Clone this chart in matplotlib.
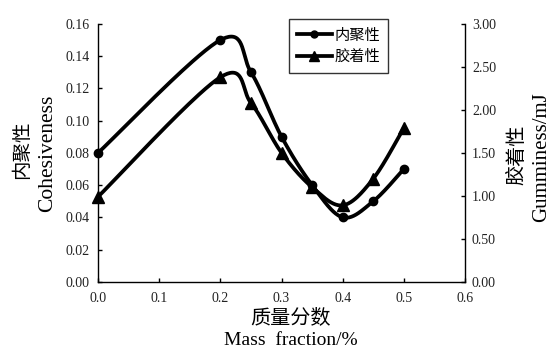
import numpy as np
import matplotlib
matplotlib.use("Agg")
import matplotlib.pyplot as plt
from matplotlib.lines import Line2D

# Data
mass_fraction = [0.0, 0.2, 0.25, 0.3, 0.35, 0.4, 0.45, 0.5]
cohesiveness = [0.08, 0.15, 0.13, 0.09, 0.06, 0.04, 0.05, 0.07]
gumminess = [0.99, 2.38, 2.08, 1.50, 1.10, 0.89, 1.20, 1.79]

x_ticks = [0.0, 0.1, 0.2, 0.3, 0.4, 0.5, 0.6]
left_ticks = [0.00, 0.02, 0.04, 0.06, 0.08, 0.10, 0.12, 0.14, 0.16]
right_ticks = [0.00, 0.50, 1.00, 1.50, 2.00, 2.50, 3.00]

SERIF = ["Liberation Serif", "DejaVu Serif"]
CJK = ["Noto Sans CJK SC", "DejaVu Sans"]


def smooth(x, y, n=40):
    """Cubic Bezier smoothing through every point (Catmull-Rom style)."""
    p = np.column_stack([x, y]).astype(float)
    ext = np.vstack([p[0], p, p[-1]])
    t = np.linspace(0, 1, n)[:, None]
    out = []
    for i in range(len(p) - 1):
        p0, p3 = ext[i + 1], ext[i + 2]
        c1 = p0 + (ext[i + 2] - ext[i]) / 6.0
        c2 = p3 - (ext[i + 3] - ext[i + 1]) / 6.0
        seg = ((1 - t) ** 3) * p0 + 3 * ((1 - t) ** 2) * t * c1 \
            + 3 * (1 - t) * t ** 2 * c2 + t ** 3 * p3
        out.append(seg if i == 0 else seg[1:])
    s = np.vstack(out)
    return s[:, 0], s[:, 1]


fig = plt.figure(figsize=(5.51, 3.51), dpi=100)
ax = fig.add_axes([0.178, 0.197, 0.666, 0.735])
ax2 = ax.twinx()

lw = 2.7
sx, sy = smooth(mass_fraction, cohesiveness)
ax.plot(sx, sy, color="black", lw=lw, solid_capstyle="round", zorder=3)
ax.plot(mass_fraction, cohesiveness, ls="none", marker="o", ms=6,
        color="black", zorder=4, clip_on=False)

gx, gy = smooth(mass_fraction, gumminess)
ax2.plot(gx, gy, color="black", lw=lw, solid_capstyle="round", zorder=3)
ax2.plot(mass_fraction, gumminess, ls="none", marker="^", ms=8,
         color="black", zorder=4, clip_on=False)

ax.set_xlim(0, 0.6)
ax.set_ylim(0, 0.16)
ax2.set_ylim(0, 3.0)
ax.set_xticks(x_ticks)
ax.set_xticklabels([f"{v:.1f}" for v in x_ticks])
ax.set_yticks(left_ticks)
ax.set_yticklabels([f"{v:.2f}" for v in left_ticks])
ax2.set_yticks(right_ticks)
ax2.set_yticklabels([f"{v:.2f}" for v in right_ticks])

for a in (ax, ax2):
    for sp in a.spines.values():
        sp.set_linewidth(1.0)
    a.tick_params(direction="in", length=3, width=1.0, labelsize=10,
                  labelcolor="#222222")
    for lab in a.get_xticklabels() + a.get_yticklabels():
        lab.set_family(SERIF)
ax.tick_params(axis="y", pad=6)
ax.tick_params(axis="x", pad=7)
ax2.tick_params(axis="y", pad=5)
ax.spines["top"].set_visible(False)
ax2.spines["top"].set_visible(False)
ax.spines["right"].set_visible(False)
ax2.spines["left"].set_visible(False)
ax2.spines["bottom"].set_visible(False)

# Axis titles
fig.text(0.040, 0.573, "内聚性", rotation=90, ha="center", va="center",
         fontsize=14, family=CJK)
fig.text(0.087, 0.562, "Cohesiveness", rotation=90, ha="center", va="center",
         fontsize=15.5, family=SERIF)
fig.text(0.938, 0.558, "胶着性", rotation=90, ha="center", va="center",
         fontsize=14.5, family=CJK)
fig.text(0.983, 0.553, "Gumminess/mJ", rotation=90, ha="center", va="center",
         fontsize=15, family=SERIF)
fig.text(0.527, 0.094, "质量分数", ha="center", va="center",
         fontsize=14.5, family=CJK)
fig.text(0.527, 0.03, "Mass  fraction/%", ha="center", va="center",
         fontsize=14, family=SERIF)

# Legend
handles = [
    Line2D([], [], color="black", lw=lw, marker="o", ms=5),
    Line2D([], [], color="black", lw=lw, marker="^", ms=6.5),
]
leg = ax.legend(handles, ["内聚性", "胶着性"], loc="upper left",
                bbox_to_anchor=(289 / 551, 1 - 19 / 351),
                bbox_transform=fig.transFigure, frameon=True, fancybox=False,
                prop={"family": CJK, "size": 11}, handlelength=2.3,
                handletextpad=0.2, borderpad=0.5, labelspacing=0.3,
                borderaxespad=0, edgecolor="black")
leg.get_frame().set_linewidth(1.0)

fig.savefig("out.png", dpi=100, facecolor="white")
